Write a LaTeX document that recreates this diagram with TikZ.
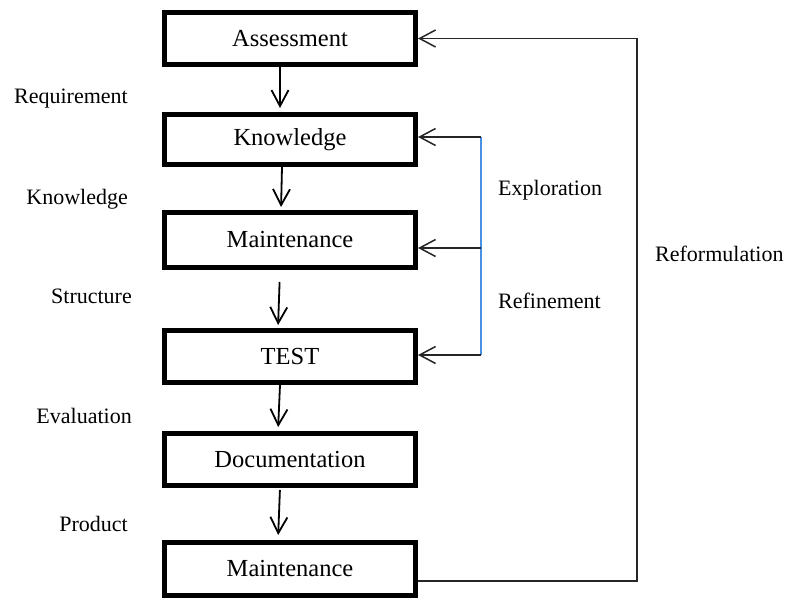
\documentclass[tikz,border=0pt]{standalone}
\usepackage{fontspec}
\setmainfont{Liberation Serif}
\usetikzlibrary{arrows.meta}
\definecolor{loopblue}{RGB}{74,144,226}
\tikzset{
  stage/.style={draw, line width=5pt, minimum width=251pt, minimum height=52pt, inner sep=0pt, font=\fontsize{24.5}{28}\selectfont},
  flow/.style={line width=1.8pt, -{Straight Barb[length=16pt,width=17pt]}},
  back/.style={flow, line width=1.5pt, draw=black!85},
  tag/.style={inner sep=0pt, anchor=base east, font=\fontsize{22}{26}\selectfont},
  rtag/.style={tag, anchor=base west}
}

\begin{document}
\begin{tikzpicture}[x=1pt,y=-1pt]
  %%%%% START %%%%%
  \useasboundingbox (0,0) rectangle (787,597);

  \node[stage] (assess) at (290,38.5) {Assessment};
  \node[stage, minimum height=50pt] (know) at (290,139.5) {Knowledge};
  \node[stage, minimum height=55pt] (maintA) at (290,240) {Maintenance};
  \node[stage] (test) at (290,356.5) {TEST};
  \node[stage] (doc) at (290,459.5) {Documentation};
  \node[stage, minimum height=53pt] (maintB) at (290,569) {Maintenance};

  \draw[flow, shorten >=4pt] ([xshift=-10pt]assess.south) -- ([xshift=-10pt]know.north);
  \draw[flow, shorten >=3pt] ([xshift=-8pt]know.south) -- ([xshift=-9pt]maintA.north);
  \draw[flow, shorten <=12pt, shorten >=3pt] ([xshift=-10pt]maintA.south) -- ([xshift=-12pt]test.north);
  \draw[flow, shorten >=4pt] ([xshift=-10pt]test.south) -- ([xshift=-12pt]doc.north);
  \draw[flow, shorten <=2pt, shorten >=5pt] ([xshift=-10pt]doc.south) -- ([xshift=-12pt]maintB.north);

  % left labels
  \node[tag] (lreq) at (128,103) {Requirement};
  \node[tag] (lknow) at (128,204) {Knowledge};
  \node[tag] (lstruct) at (132,303) {Structure};
  \node[tag] (leval) at (132,423) {Evaluation};
  \node[tag] (lprod) at (128,531) {Product};

  % exploration / refinement loop
  \coordinate (topK) at (481,137);
  \coordinate (midM) at (481,248);
  \coordinate (botT) at (481,355);
  \draw[loopblue, line width=1.5pt] (topK) -- (botT);
  \draw[back] (topK) -- (know.east |- topK);
  \draw[back] (midM) -- (maintA.east |- midM);
  \draw[back] (botT) -- (test.east |- botT);
  \node[rtag] (lexpl) at (498,195) {Exploration};
  \node[rtag] (lrefi) at (498,308) {Refinement};

  % reformulation loop
  \coordinate (turn) at (637,581);
  \draw[back] (maintB.east |- turn) -- (turn) |- (assess.east);
  \node[rtag] (lreform) at (655,261) {Reformulation};
  %%%%% END %%%%%
\end{tikzpicture}
\end{document}
